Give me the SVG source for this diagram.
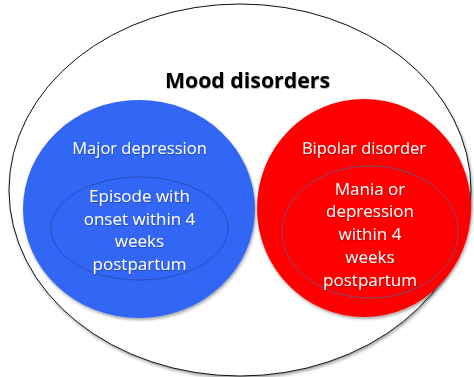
<svg xmlns="http://www.w3.org/2000/svg" width="474" height="377" viewBox="0 0 474 377">
  <defs>
    <filter id="sh" x="-10%" y="-10%" width="120%" height="120%">
      <feDropShadow dx="1" dy="2" stdDeviation="1.5" flood-color="#000" flood-opacity="0.35"/>
    </filter>
    <filter id="tsh" x="-10%" y="-10%" width="120%" height="130%">
      <feDropShadow dx="0.5" dy="1" stdDeviation="0.6" flood-color="#000" flood-opacity="0.3"/>
    </filter>
  </defs>
  <style>
    text { font-family: "Open Sans", Lato, "Liberation Sans", sans-serif; text-anchor: middle; }
    .title { font-size: 21.3px; font-weight: bold; fill: #000; }
    .lbl { font-size: 16.5px; fill: #fff; }
    .inn { font-size: 17px; fill: #fff; }
  </style>
  <rect width="474" height="377" fill="#fff"/>
  <g id="mood-disorders">
    <ellipse cx="240" cy="190" rx="231" ry="186" fill="#fff" stroke="#111" stroke-width="1" filter="url(#sh)"/>
    <text class="title" x="247.5" y="88" filter="url(#tsh)">Mood disorders</text>
  </g>
  <g id="major-depression">
    <ellipse cx="139" cy="209" rx="116" ry="109" fill="#3366f5" filter="url(#sh)"/>
    <text class="lbl" x="139.5" y="154" filter="url(#tsh)">Major depression</text>
  </g>
  <g id="episode-postpartum">
    <ellipse cx="139.5" cy="228.5" rx="88.5" ry="51.5" fill="#3366f5" stroke="#2a4db8" stroke-width="1"/>
    <text class="inn" x="139.5" y="202" filter="url(#tsh)">Episode with</text>
    <text class="inn" x="139.5" y="225" filter="url(#tsh)">onset within 4</text>
    <text class="inn" x="139.5" y="247" filter="url(#tsh)">weeks</text>
    <text class="inn" x="139.5" y="270" filter="url(#tsh)">postpartum</text>
  </g>
  <g id="bipolar-disorder">
    <ellipse cx="364" cy="208" rx="107" ry="109" fill="#ff0000" filter="url(#sh)"/>
    <text class="lbl" x="364" y="154" filter="url(#tsh)">Bipolar disorder</text>
  </g>
  <g id="mania-postpartum">
    <ellipse cx="370" cy="232" rx="88" ry="66" fill="#ff0000" stroke="#7a4a7a" stroke-width="1"/>
    <text class="inn" x="370" y="195" filter="url(#tsh)">Mania or</text>
    <text class="inn" x="370" y="217" filter="url(#tsh)">depression</text>
    <text class="inn" x="370" y="240" filter="url(#tsh)">within 4</text>
    <text class="inn" x="370" y="263" filter="url(#tsh)">weeks</text>
    <text class="inn" x="370" y="286" filter="url(#tsh)">postpartum</text>
  </g>
  <g id="connectors"></g>
</svg>
